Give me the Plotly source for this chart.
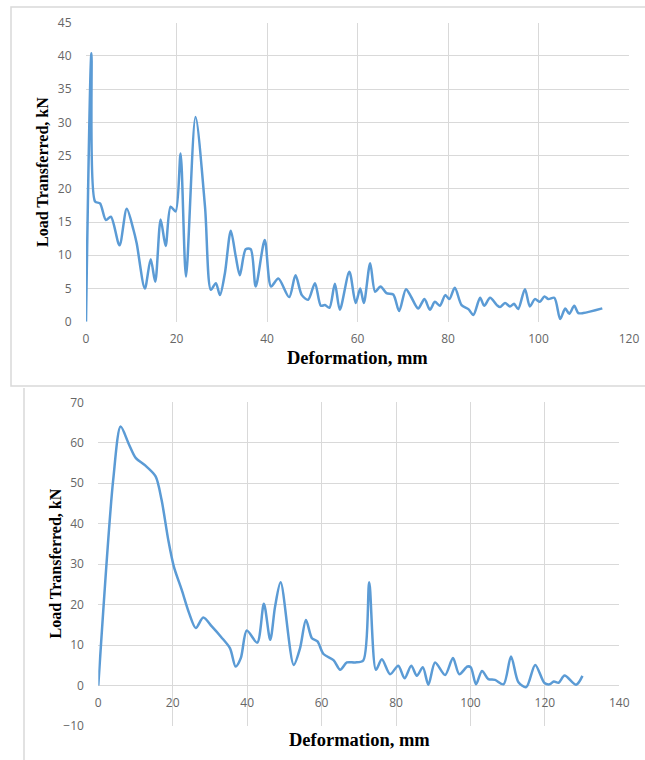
import plotly.graph_objects as go

# ---- Data: top chart ----
top_x = [0, 1.2, 2.0, 3.1, 4.4, 5.5, 7.4, 9.0, 10.5, 11.2, 13.0, 14.3, 15.3, 16.5, 17.6, 18.7, 19.8,
         20.9, 22.1, 24.2, 26.3, 27.6, 28.7, 29.6, 30.7, 32.0, 33.1, 34.0, 35.3, 36.4, 37.5, 39.5,
         40.9, 42.5, 44.9, 46.3, 47.7, 49.1, 50.6, 51.9, 52.8, 53.8, 55.0, 56.1, 58.2, 59.6, 60.6,
         61.4, 62.8, 63.9, 65.1, 66.4, 67.9, 69.2, 70.7, 71.8, 73.4, 74.8, 76.0, 77.1, 78.2, 79.4,
         80.3, 81.5, 83.0, 84.5, 85.6, 87.1, 88.0, 89.3, 90.8, 91.5, 92.6, 93.7, 94.6, 95.5, 97.0,
         98.1, 99.2, 100.3, 101.3, 102.2, 103.5, 104.8, 105.9, 106.8, 107.9, 108.8, 109.9, 114.1]
top_y = [0, 40.4, 18.1, 17.8, 15.3, 15.8, 11.5, 17.0, 13.8, 11.8, 5.0, 9.4, 6.0, 15.4, 11.4, 17.3, 16.6,
         25.3, 6.8, 30.8, 17.3, 4.8, 5.8, 4.0, 7.3, 13.7, 9.8, 7.0, 10.9, 10.9, 5.3, 12.3,
         5.3, 6.5, 3.7, 7.0, 4.0, 3.3, 5.8, 2.4, 2.5, 2.1, 5.7, 1.8, 7.5, 2.8, 5.0,
         2.8, 8.8, 4.5, 5.3, 4.3, 4.1, 1.6, 4.9, 3.8, 2.0, 3.4, 1.8, 3.0, 2.4, 4.0,
         3.4, 5.1, 2.5, 1.9, 1.0, 3.6, 2.4, 3.6, 2.5, 2.2, 2.8, 2.3, 2.7, 1.9, 4.9,
         2.3, 3.4, 3.0, 3.8, 3.4, 3.6, 0.4, 2.0, 1.2, 2.4, 1.3, 1.3, 2.0]

# ---- Data: bottom chart ----
bot_x = [0, 4.0, 6.0, 8.1, 10.1, 12.6, 15.4, 17.0, 18.8, 20.3, 22.4, 24.4, 26.2, 28.2, 30.5, 33.0,
         35.4, 36.9, 38.3, 39.9, 42.7, 44.5, 46.2, 47.5, 49.0, 52.5, 54.2, 55.8, 57.4, 58.9, 60.5,
         63.2, 65.0, 66.8, 69.0, 71.2, 72.8, 74.6, 76.2, 78.4, 80.6, 82.3, 84.1, 85.6, 87.2, 88.7,
         90.5, 93.2, 95.3, 97.0, 99.2, 100.1, 101.5, 103.1, 104.8, 106.6, 108.9, 110.9, 112.9,
         115.0, 117.4, 119.9, 121.3, 122.4, 123.7, 125.3, 128.4, 130.1]
bot_y = [0, 50.8, 64.0, 59.9, 56.2, 54.4, 51.7, 45.9, 36.0, 29.4, 23.7, 17.9, 14.2, 16.8, 14.6, 12.0,
         9.2, 4.7, 6.8, 13.6, 10.6, 20.2, 11.3, 19.5, 25.5, 5.1, 9.2, 16.2, 11.7, 10.9, 7.8,
         6.3, 3.9, 5.7, 5.7, 6.2, 25.5, 3.9, 6.5, 2.8, 4.9, 1.8, 4.9, 2.4, 4.5, 0.2,
         5.7, 2.6, 6.8, 2.8, 4.7, 4.5, 0.3, 3.6, 1.6, 1.4, 0.3, 7.2, 0.8,
         -0.4, 5.1, 0.6, 0.3, 1.0, 0.7, 2.5, 0.2, 2.4]

top_xticks = [0, 20, 40, 60, 80, 100, 120]
top_yticks = [0, 5, 10, 15, 20, 25, 30, 35, 40, 45]
bot_xticks = [0, 20, 40, 60, 80, 100, 120, 140]
bot_yticks = [-10, 0, 10, 20, 30, 40, 50, 60, 70]

W, H = 645, 760
LINE = "#5b9bd5"
GRID = "#d9d9d9"
TICKFONT = dict(family="Open Sans, sans-serif", size=12, color="#666666")
TITLEFONT = dict(family="Liberation Serif, Times New Roman, serif", color="black")

fig = go.Figure()
fig.add_trace(go.Scatter(x=top_x, y=top_y, mode="lines", xaxis="x", yaxis="y",
                         line=dict(color=LINE, width=2.5, shape="spline", smoothing=0.8),
                         showlegend=False, hoverinfo="skip"))
fig.add_trace(go.Scatter(x=bot_x, y=bot_y, mode="lines", xaxis="x2", yaxis="y2",
                         line=dict(color=LINE, width=2.5, shape="spline", smoothing=0.8),
                         showlegend=False, hoverinfo="skip"))

def px_x(p):
    return p / W

def px_y(p):
    return 1 - p / H

common_x = dict(showgrid=True, gridcolor=GRID, gridwidth=1, zeroline=False, showline=False,
                ticks="outside", ticklen=6, tickcolor="rgba(0,0,0,0)", tickfont=TICKFONT,
                fixedrange=True, automargin=False)
common_y = dict(showgrid=True, gridcolor=GRID, gridwidth=1, zeroline=False, showline=False,
                ticks="outside", ticklen=11, tickcolor="rgba(0,0,0,0)", tickfont=TICKFONT,
                fixedrange=True, automargin=False)

fig.update_layout(
    width=W, height=H,
    margin=dict(l=0, r=0, t=0, b=0, pad=0, autoexpand=False),
    paper_bgcolor="white", plot_bgcolor="white",
    xaxis=dict(domain=[px_x(86), px_x(629)], range=[0, 120], tickvals=top_xticks,
               anchor="y", **common_x),
    yaxis=dict(domain=[px_y(321.7), px_y(22.7)], range=[0, 45], tickvals=top_yticks,
               anchor="x", **common_y),
    xaxis2=dict(domain=[px_x(98.3), px_x(619.3)], range=[0, 140], tickvals=bot_xticks,
                anchor="free", position=px_y(685.7), **common_x),
    yaxis2=dict(domain=[px_y(726), px_y(402.3)], range=[-10, 70], tickvals=bot_yticks,
                anchor="x2", **common_y),
)

# chart frame borders
fig.add_shape(type="rect", xref="paper", yref="paper",
              x0=px_x(11), x1=px_x(660), y0=px_y(386), y1=px_y(7),
              line=dict(color=GRID, width=1.5), layer="below")
fig.add_shape(type="line", xref="paper", yref="paper",
              x0=px_x(24), x1=px_x(24), y0=px_y(388), y1=px_y(770),
              line=dict(color=GRID, width=1.5), layer="below")

# axis titles
fig.add_annotation(text="<b>Load Transferred, kN</b>", xref="paper", yref="paper",
                   x=px_x(42.5), y=px_y(172.5), textangle=-90, showarrow=False,
                   font=dict(size=16, **TITLEFONT), xanchor="center", yanchor="middle")
fig.add_annotation(text="<b>Deformation, mm</b>", xref="paper", yref="paper",
                   x=px_x(357), y=px_y(358), showarrow=False,
                   font=dict(size=18.5, **TITLEFONT), xanchor="center", yanchor="middle")
fig.add_annotation(text="<b>Load Transferred, kN</b>", xref="paper", yref="paper",
                   x=px_x(54.5), y=px_y(564), textangle=-90, showarrow=False,
                   font=dict(size=16, **TITLEFONT), xanchor="center", yanchor="middle")
fig.add_annotation(text="<b>Deformation, mm</b>", xref="paper", yref="paper",
                   x=px_x(359), y=px_y(740), showarrow=False,
                   font=dict(size=18.5, **TITLEFONT), xanchor="center", yanchor="middle")

# let the 645x760 figure fill the window exactly (no default body margin / scrollbars)
fig.write_html("out.html",
               config={"displayModeBar": False, "staticPlot": True},
               post_script="document.body.style.margin='0';"
                           "document.documentElement.style.overflow='hidden';")
